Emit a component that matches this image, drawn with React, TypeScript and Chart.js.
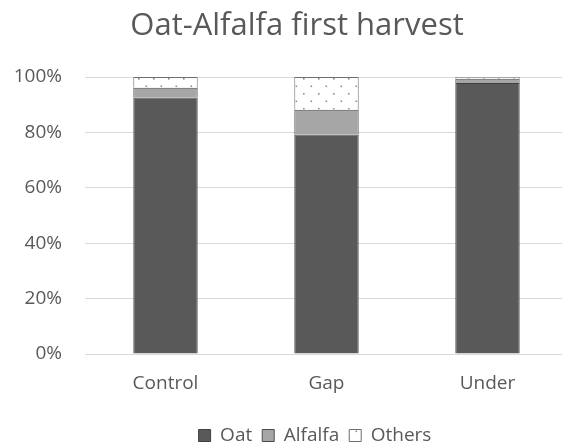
import React, { useEffect, useRef } from "react";
import { Chart, registerables } from "chart.js";

Chart.register(...registerables);

const categories = ["Control", "Gap", "Under"];
const oatValues = [92.6, 79.2, 97.8];
const alfalfaValues = [3.5, 9.0, 1.6];
const othersValues = [3.9, 11.8, 0.6];
const yTicks = [0, 20, 40, 60, 80, 100];
const titleText = "Oat-Alfalfa first harvest";

const FONT = "'Open Sans', sans-serif";
const TEXT = "#595959";
const W = 630;
const H = 455;

function makeDotPattern(): CanvasPattern | string {
  const c = document.createElement("canvas");
  c.width = 15;
  c.height = 15;
  const ctx = c.getContext("2d");
  if (!ctx) return "#ffffff";
  ctx.fillStyle = "#ffffff";
  ctx.fillRect(0, 0, 15, 15);
  ctx.fillStyle = "#8c8c8c";
  ctx.fillRect(3, 3, 1.6, 1.6);
  ctx.fillRect(10.5, 10.5, 1.6, 1.6);
  const p = ctx.createPattern(c, "repeat");
  return p || "#ffffff";
}

const titlePlugin = {
  id: "customTitle",
  afterDraw(chart: any) {
    const ctx = chart.ctx;
    ctx.save();
    ctx.font = `31px ${FONT}`;
    ctx.fillStyle = TEXT;
    ctx.textAlign = "center";
    ctx.textBaseline = "middle";
    ctx.fillText(titleText, 297, 26);
    ctx.restore();
  },
};

export default function App() {
  const ref = useRef<HTMLCanvasElement | null>(null);
  useEffect(() => {
    if (!ref.current) return;
    const pattern = makeDotPattern();
    const chart = new Chart(ref.current, {
      type: "bar",
      data: {
        labels: categories,
        datasets: [
          {
            label: "Oat",
            data: oatValues,
            backgroundColor: "#595959",
            borderColor: "#404040",
            borderWidth: 1,
            barPercentage: 0.4,
            categoryPercentage: 1,
          },
          {
            label: "Alfalfa",
            data: alfalfaValues,
            backgroundColor: "#a6a6a6",
            borderColor: "#4d4d4d",
            borderWidth: 1,
            barPercentage: 0.4,
            categoryPercentage: 1,
          },
          {
            label: "Others",
            data: othersValues,
            backgroundColor: pattern as any,
            borderColor: "#6e6e6e",
            borderWidth: 1,
            barPercentage: 0.4,
            categoryPercentage: 1,
          },
        ],
      },
      options: {
        responsive: false,
        animation: false,
        layout: { padding: { left: 0, right: 0, top: 77, bottom: 0 } },
        plugins: {
          title: { display: false },
          tooltip: { enabled: false },
          legend: {
            position: "bottom",
            labels: {
              color: TEXT,
              font: { family: FONT, size: 19 },
              boxWidth: 12,
              boxHeight: 12,
              padding: 10,
            },
          },
        },
        scales: {
          x: {
            stacked: true,
            grid: { display: false },
            border: { display: false },
            ticks: { color: TEXT, font: { family: FONT, size: 19 }, padding: 10 },
            afterFit: (s: any) => {
              s.height = 62;
            },
          },
          y: {
            stacked: true,
            min: 0,
            max: 100,
            afterBuildTicks: (s: any) => {
              s.ticks = yTicks.map((v) => ({ value: v }));
            },
            grid: { color: "#d9d9d9", lineWidth: 1, drawTicks: false },
            border: { display: false },
            ticks: {
              color: TEXT,
              font: { family: FONT, size: 19 },
              padding: 23,
              callback: (v: any) => `${v}%`,
            },
            afterFit: (s: any) => {
              s.width = 85;
            },
          },
          yRight: {
            position: "right",
            min: 0,
            max: 100,
            grid: { display: false },
            border: { display: false },
            ticks: { display: false },
            afterFit: (s: any) => {
              s.width = W - 568;
            },
          },
        },
      },
      plugins: [titlePlugin],
    });
    return () => chart.destroy();
  }, []);
  return (
    <div
      style={{
        position: "fixed",
        left: 0,
        top: 0,
        width: 562,
        height: 447,
        overflow: "hidden",
        background: "#ffffff",
      }}
    >
      <canvas ref={ref} width={W} height={H} style={{ width: W, height: H, display: "block" }} />
    </div>
  );
}
